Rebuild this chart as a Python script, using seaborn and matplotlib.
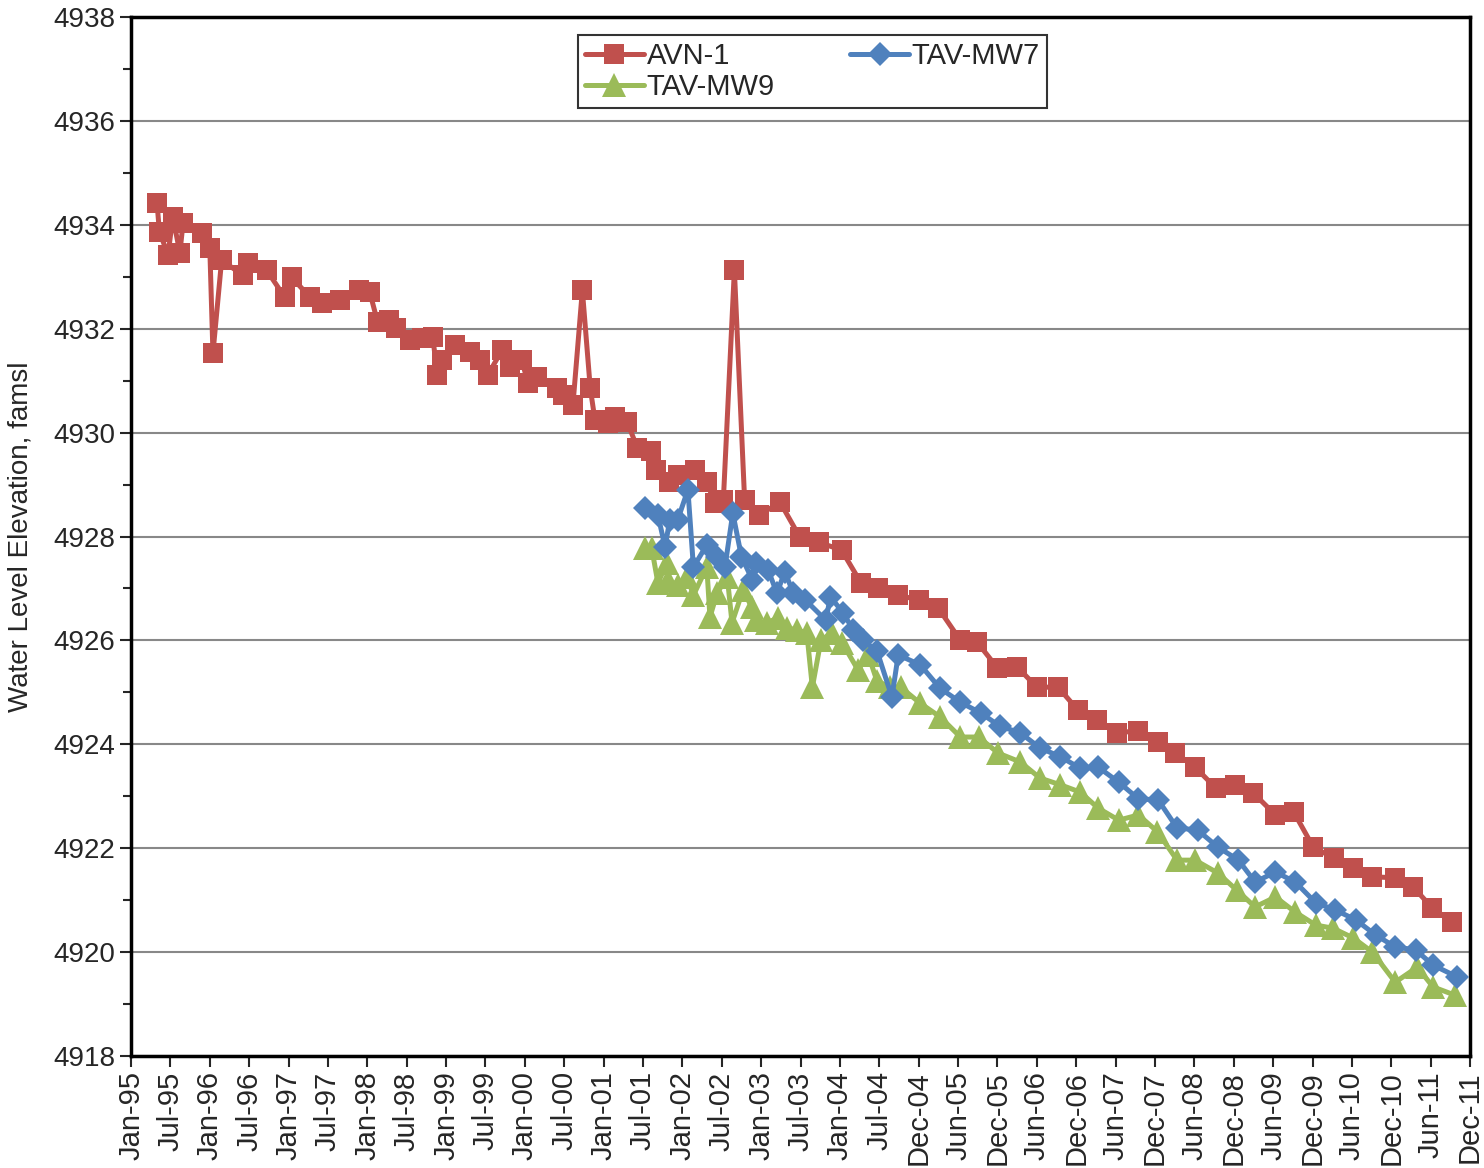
#Water level elevation hydrograph for AVN-1, TAV-MW7 and TAV-MW9 (1995-2011).

#Importing necessary libraries.
import numpy as np
import pandas as pd
import matplotlib
matplotlib.use("Agg")
import matplotlib.pyplot as plt
import seaborn as sns
from matplotlib.ticker import MultipleLocator, FormatStrFormatter

avn1_dates = [1995.33, 1995.36, 1995.47, 1995.53, 1995.62, 1995.66, 1995.90, 1996.00, 1996.04, 1996.15,
              1996.42, 1996.48, 1996.72, 1996.95, 1997.04, 1997.27, 1997.43, 1997.65, 1997.90, 1998.03,
              1998.13, 1998.28, 1998.37, 1998.54, 1998.70, 1998.83, 1998.89, 1998.95, 1999.11, 1999.30,
              1999.43, 1999.53, 1999.71, 1999.81, 1999.96, 2000.04, 2000.15, 2000.41, 2000.48, 2000.61,
              2000.73, 2000.83, 2000.89, 2001.05, 2001.15, 2001.30, 2001.43, 2001.60, 2001.66, 2001.83,
              2001.95, 2002.16, 2002.31, 2002.41, 2002.52, 2002.66, 2002.79, 2002.97, 2003.24, 2003.49,
              2003.73, 2004.02, 2004.27, 2004.48, 2004.74, 2005.00, 2005.25, 2005.53, 2005.74, 2006.00,
              2006.25, 2006.50, 2006.77, 2007.02, 2007.26, 2007.52, 2007.78, 2008.04, 2008.26, 2008.51,
              2008.77, 2009.02, 2009.25, 2009.53, 2009.76, 2010.01, 2010.27, 2010.52, 2010.76, 2011.05,
              2011.28, 2011.52, 2011.77]
avn1_levels = [4934.42, 4933.87, 4933.42, 4934.16, 4933.46, 4934.03, 4933.84, 4933.55, 4931.53, 4933.32,
               4933.03, 4933.26, 4933.13, 4932.61, 4932.99, 4932.61, 4932.49, 4932.55, 4932.74, 4932.71,
               4932.13, 4932.17, 4932.01, 4931.78, 4931.82, 4931.84, 4931.11, 4931.40, 4931.69, 4931.55,
               4931.40, 4931.11, 4931.59, 4931.26, 4931.40, 4930.95, 4931.07, 4930.86, 4930.72, 4930.53,
               4932.74, 4930.86, 4930.24, 4930.18, 4930.30, 4930.20, 4929.70, 4929.65, 4929.28, 4929.05,
               4929.18, 4929.28, 4929.05, 4928.64, 4928.70, 4933.13, 4928.70, 4928.41, 4928.66, 4927.99,
               4927.89, 4927.74, 4927.10, 4927.00, 4926.87, 4926.78, 4926.62, 4926.00, 4925.97, 4925.47,
               4925.49, 4925.10, 4925.10, 4924.66, 4924.47, 4924.22, 4924.26, 4924.04, 4923.83, 4923.56,
               4923.16, 4923.22, 4923.06, 4922.64, 4922.70, 4922.02, 4921.81, 4921.62, 4921.45, 4921.43,
               4921.25, 4920.85, 4920.58]

mw7_dates = [2001.52, 2001.69, 2001.78, 2001.84, 2001.94, 2002.07, 2002.14, 2002.31, 2002.44, 2002.54,
             2002.64, 2002.75, 2002.89, 2002.94, 2003.09, 2003.20, 2003.30, 2003.41, 2003.56, 2003.82,
             2003.88, 2004.04, 2004.17, 2004.29, 2004.47, 2004.66, 2004.74, 2005.02, 2005.27, 2005.53,
             2005.79, 2006.03, 2006.29, 2006.54, 2006.80, 2007.05, 2007.28, 2007.54, 2007.79, 2008.04,
             2008.28, 2008.54, 2008.80, 2009.06, 2009.27, 2009.53, 2009.78, 2010.04, 2010.29, 2010.55,
             2010.80, 2011.05, 2011.31, 2011.53, 2011.84]
mw7_levels = [4928.55, 4928.41, 4927.80, 4928.32, 4928.32, 4928.90, 4927.41, 4927.84, 4927.61, 4927.41,
              4928.45, 4927.61, 4927.16, 4927.49, 4927.35, 4926.91, 4927.32, 4926.91, 4926.78, 4926.39,
              4926.84, 4926.53, 4926.20, 4926.00, 4925.80, 4924.91, 4925.72, 4925.53, 4925.08, 4924.81,
              4924.60, 4924.35, 4924.22, 4923.93, 4923.76, 4923.54, 4923.56, 4923.27, 4922.95, 4922.93,
              4922.39, 4922.35, 4922.02, 4921.77, 4921.35, 4921.54, 4921.35, 4920.95, 4920.81, 4920.62,
              4920.33, 4920.10, 4920.04, 4919.75, 4919.52]

mw9_dates = [2001.52, 2001.61, 2001.69, 2001.80, 2001.82, 2001.94, 2002.06, 2002.14, 2002.31, 2002.35,
             2002.44, 2002.57, 2002.63, 2002.77, 2002.88, 2002.94, 2003.07, 2003.21, 2003.33, 2003.46,
             2003.58, 2003.65, 2003.76, 2003.90, 2004.03, 2004.23, 2004.36, 2004.47, 2004.64, 2004.77,
             2005.02, 2005.27, 2005.53, 2005.76, 2006.01, 2006.29, 2006.54, 2006.80, 2007.05, 2007.28,
             2007.54, 2007.79, 2008.03, 2008.28, 2008.51, 2008.80, 2009.04, 2009.27, 2009.53, 2009.78,
             2010.04, 2010.26, 2010.52, 2010.76, 2011.05, 2011.33, 2011.53, 2011.81]
mw9_levels = [4927.78, 4927.78, 4927.10, 4927.49, 4927.16, 4927.07, 4927.22, 4926.87, 4927.41, 4926.45,
              4926.91, 4927.22, 4926.34, 4926.97, 4926.64, 4926.39, 4926.34, 4926.43, 4926.24, 4926.20,
              4926.14, 4925.10, 4926.01, 4926.14, 4925.95, 4925.43, 4925.72, 4925.22, 4925.10, 4925.10,
              4924.79, 4924.53, 4924.14, 4924.14, 4923.83, 4923.66, 4923.35, 4923.22, 4923.08, 4922.77,
              4922.54, 4922.64, 4922.32, 4921.77, 4921.77, 4921.52, 4921.19, 4920.87, 4921.06, 4920.77,
              4920.52, 4920.46, 4920.27, 4920.00, 4919.42, 4919.71, 4919.33, 4919.17]

#Tick labels along the date axis.
tick_labels = ['Jan-95', 'Jul-95', 'Jan-96', 'Jul-96', 'Jan-97', 'Jul-97', 'Jan-98', 'Jul-98', 'Jan-99',
               'Jul-99', 'Jan-00', 'Jul-00', 'Jan-01', 'Jul-01', 'Jan-02', 'Jul-02', 'Jan-03', 'Jul-03',
               'Jan-04', 'Jul-04', 'Dec-04', 'Jun-05', 'Dec-05', 'Jun-06', 'Dec-06', 'Jun-07', 'Dec-07',
               'Jun-08', 'Dec-08', 'Jun-09', 'Dec-09', 'Jun-10', 'Dec-10', 'Jun-11', 'Dec-11']

#Styling.
sns.set_style("white")
plt.rcParams['font.family'] = ['Liberation Sans', 'DejaVu Sans']

fig = plt.figure(figsize=(14.84, 11.68), dpi=100)
ax = fig.add_axes([0.0883, 0.0959, 0.9023, 0.8895])

#Plotting each well.
sns.lineplot(x=avn1_dates, y=avn1_levels, ax=ax, color='#C0504D', marker='s', markersize=15,
             markeredgewidth=0, linewidth=3.6, estimator=None, sort=False, label='AVN-1', zorder=3)
sns.lineplot(x=mw9_dates, y=mw9_levels, ax=ax, color='#9BBB59', marker='^', markersize=17,
             markeredgewidth=0, linewidth=3.6, estimator=None, sort=False, label='TAV-MW9', zorder=4)
sns.lineplot(x=mw7_dates, y=mw7_levels, ax=ax, color='#4F81BD', marker='D', markersize=12,
             markeredgewidth=0, linewidth=3.6, estimator=None, sort=False, label='TAV-MW7', zorder=5)

#Axes limits and ticks.
ax.set_xticks(np.linspace(1995, 2012, len(tick_labels)))
ax.set_xticklabels(tick_labels, rotation=90, fontsize=21)
ax.yaxis.set_major_locator(MultipleLocator(2))
ax.yaxis.set_minor_locator(MultipleLocator(1))
ax.yaxis.set_major_formatter(FormatStrFormatter('%d'))
ax.set_xlim(1995, 2012)
ax.set_ylim(4918, 4938)
ax.tick_params(axis='y', which='major', labelsize=20, direction='out', length=8, width=1.5, left=True)
ax.tick_params(axis='y', which='minor', direction='out', length=6, width=1.5, left=True)
ax.tick_params(axis='x', which='major', direction='out', length=8, width=1.5, bottom=True, pad=3)

#Gridlines and frame.
ax.yaxis.grid(True, color='#888888', linewidth=1.5)
ax.xaxis.grid(False)
ax.set_axisbelow(True)
for spine in ax.spines.values():
    spine.set_color('black')
    spine.set_linewidth(2.5)

ax.set_xlabel('')
ax.set_ylabel('Water Level Elevation, famsl', fontsize=20, labelpad=14)

#Legend: AVN-1 and TAV-MW7 on the top row, TAV-MW9 below.
handles, labels = ax.get_legend_handles_labels()
order = [labels.index('AVN-1'), labels.index('TAV-MW9'), labels.index('TAV-MW7')]
leg = ax.legend([handles[i] for i in order], [labels[i] for i in order], ncol=2, loc='upper center',
                bbox_to_anchor=(0.509, 0.983), borderaxespad=0, fontsize=21, frameon=True,
                fancybox=False, edgecolor='black', handlelength=2.0, handletextpad=0.1,
                columnspacing=2.6, labelspacing=0.1, borderpad=0.25)
leg.get_frame().set_linewidth(1.5)

plt.savefig('out.png', dpi=100)
